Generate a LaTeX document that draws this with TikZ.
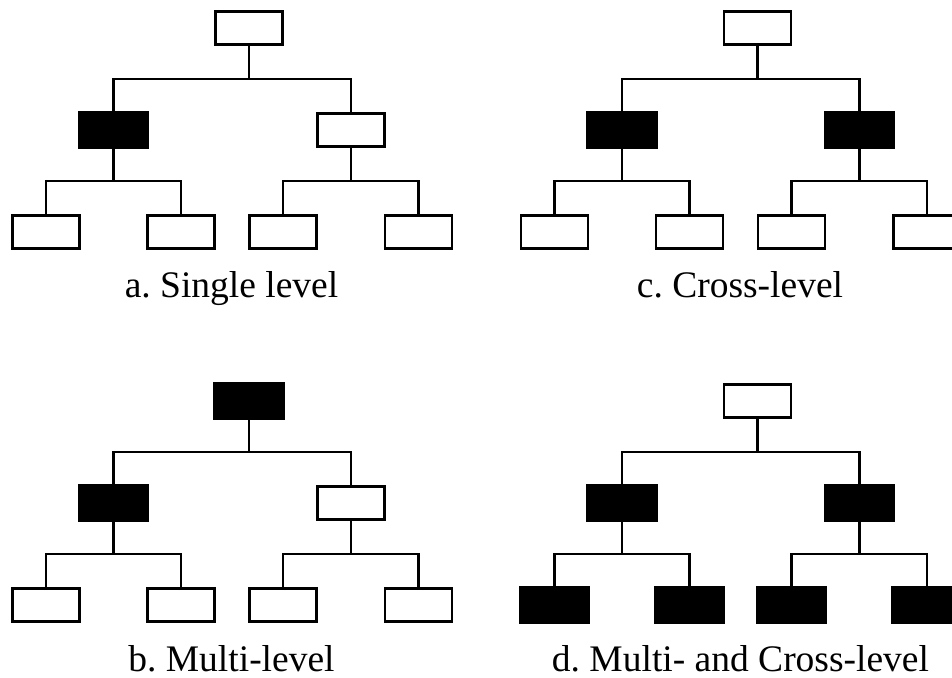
\documentclass[tikz,border=0pt]{standalone}
\usepackage{fontspec}
\setmainfont{Liberation Serif}
\frenchspacing
\tikzset{
  wbox/.style={draw=black, fill=white, line width=2.5pt, minimum width=67pt, minimum height=33pt, inner sep=0pt, outer sep=0pt},
  bbox/.style={draw=black, fill=black, line width=2.5pt, minimum width=69pt, minimum height=35pt, inner sep=0pt, outer sep=0pt},
  conn/.style={draw=black, line width=2.5pt},
  caption/.style={font=\fontsize{37.5pt}{40pt}\selectfont, anchor=base, inner sep=0pt, text depth=0pt}
}
\newcommand\treediag[9]{%
  \begin{scope}[shift={(#2)}]
    \node[#3] (#1t) at (249,28) {};
    \node[#4] (#1l) at (113.5,130) {};
    \node[#5] (#1r) at (351,130) {};
    \node[#6] (#1ll) at (46,232) {};
    \node[#7] (#1lr) at (181,232) {};
    \node[#8] (#1rl) at (283,232) {};
    \node[#9] (#1rr) at (418.5,232) {};
    \coordinate (#1b) at (249,79);
    \coordinate (#1lb) at (113.5,181);
    \coordinate (#1rb) at (351,181);
    \draw[conn] (#1t.south) -- (#1b);
    \draw[conn] (#1l.north) |- (#1b);
    \draw[conn] (#1r.north) |- (#1b);
    \draw[conn] (#1l.south) -- (#1lb);
    \draw[conn] (#1ll.north) |- (#1lb);
    \draw[conn] (#1lr.north) |- (#1lb);
    \draw[conn] (#1r.south) -- (#1rb);
    \draw[conn] (#1rl.north) |- (#1rb);
    \draw[conn] (#1rr.north) |- (#1rb);
  \end{scope}}
\begin{document}
\begin{tikzpicture}[x=1pt, y=-1pt]
  \useasboundingbox (0,0) rectangle (952,677);
  \clip (0,0) rectangle (952,677);
  \fill[white] (0,0) rectangle (952,677);
  \treediag{a}{0,0}{wbox}{bbox}{wbox}{wbox}{wbox}{wbox}{wbox}
  \treediag{b}{0,373}{bbox}{bbox}{wbox}{wbox}{wbox}{wbox}{wbox}
  \treediag{c}{508.3,0}{wbox}{bbox}{bbox}{wbox}{wbox}{wbox}{wbox}
  \treediag{d}{508.3,373}{wbox}{bbox}{bbox}{bbox}{bbox}{bbox}{bbox}
  \node[caption] (capa) at (231.5,297) {a. Single level};
  \node[caption] (capb) at (231.5,671) {b. Multi-level};
  \node[caption] (capc) at (740,297) {c. Cross-level};
  \node[caption] (capd) at (740.5,671) {d. Multi- and Cross-level};
\end{tikzpicture}
\end{document}
